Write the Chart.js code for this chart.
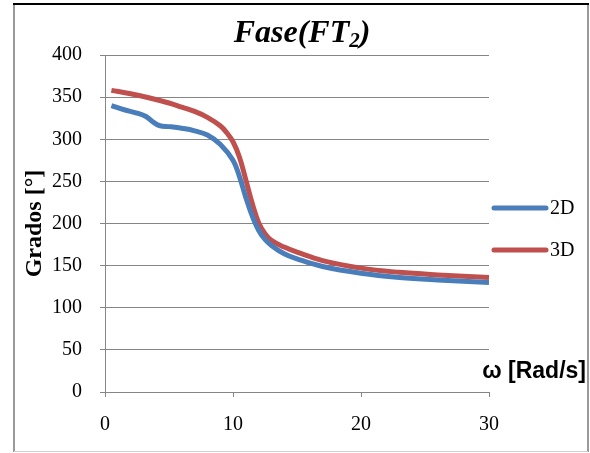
<!DOCTYPE html>
<html>
<head>
<meta charset="utf-8">
<script src="https://cdn.jsdelivr.net/npm/chart.js@4.4.1/dist/chart.umd.min.js"></script>
<style>
    html, body { margin: 0; padding: 0; background: #fff; }
    #wrap { width: 590px; height: 453px; position: relative; }
</style>
</head>
<body>
<div id="wrap"><canvas id="fase-chart"></canvas></div>
<script>
// ── Data ───────────────────────────────────────
const omega2D = [0.5, 1.5, 2.5, 3.2, 3.8, 4.3, 5, 6, 7, 8, 9, 10, 10.5, 11, 11.5, 12, 12.5, 13, 14, 15, 17, 20, 23, 26, 30];
const fase2D  = [340, 335, 331, 327, 320, 316, 315, 313, 310, 305, 294, 275, 256, 231, 209, 192, 181, 174, 164, 158, 149, 141, 136, 133, 130];

const omega3D = [0.5, 2, 3.5, 5, 6, 7, 8, 9, 9.5, 10, 10.5, 11, 11.5, 12, 12.5, 13, 14, 15, 17, 20, 23, 26, 30];
const fase3D  = [358, 354, 349, 343, 338, 333, 326, 316, 308, 297, 279, 252, 224, 201, 188, 180, 172, 166, 156, 147, 142, 139, 136];

const seriesLabels = ['2D', '3D'];
const xTicks = [0, 10, 20, 30];
const yTicks = [0, 50, 100, 150, 200, 250, 300, 350, 400];

const SERIF = "'Liberation Serif', 'Times New Roman', serif";
const SANS = "'Liberation Sans', Arial, sans-serif";
const AXIS_GREY = '#868686';

function toPoints(xs, ys) {
    return xs.map((x, i) => ({ x: x, y: ys[i] }));
}

// Frame, title, legend and x-axis caption
const decorations = {
    id: 'decorations',
    beforeDraw(chart) {
        const c = chart.ctx;
        c.save();
        c.fillStyle = '#fff';
        c.fillRect(0, 0, chart.width, chart.height);
        c.strokeStyle = '#9a9a9a';
        c.lineWidth = 2;
        c.beginPath();
        c.moveTo(14, 5); c.lineTo(14, 452);
        c.moveTo(588, 5); c.lineTo(588, 452);
        c.stroke();
        c.strokeStyle = '#d0d0d0';
        c.lineWidth = 1;
        c.beginPath();
        c.moveTo(14, 451.5); c.lineTo(588, 451.5);
        c.stroke();
        c.strokeStyle = '#000';
        c.lineWidth = 2;
        c.beginPath();
        c.moveTo(13, 4); c.lineTo(589, 4);
        c.stroke();
        c.restore();
    },
    afterDraw(chart) {
        const c = chart.ctx;
        c.save();

        // title with subscript
        const big = 'bold italic 32px ' + SERIF;
        const small = 'bold italic 21px ' + SERIF;
        c.font = big;
        const w1 = c.measureText('Fase(FT').width;
        const w3 = c.measureText(')').width;
        c.font = small;
        const w2 = c.measureText('2').width;
        let x = 302 - (w1 + w2 + w3) / 2;
        const base = 42;
        c.fillStyle = '#000';
        c.textBaseline = 'alphabetic';
        c.textAlign = 'left';
        c.font = big;
        c.fillText('Fase(FT', x, base);
        x += w1;
        c.font = small;
        c.fillText('2', x, base + 5);
        x += w2;
        c.font = big;
        c.fillText(')', x, base);

        // legend
        c.lineCap = 'round';
        c.lineWidth = 5;
        c.font = '20px ' + SERIF;
        c.textBaseline = 'middle';
        const rows = [208, 250];
        chart.data.datasets.forEach((ds, i) => {
            c.strokeStyle = ds.borderColor;
            c.beginPath();
            c.moveTo(494, rows[i]);
            c.lineTo(546, rows[i]);
            c.stroke();
            c.fillStyle = '#000';
            c.fillText(ds.label, 550, rows[i] + 1);
        });

        // x-axis caption inside plot area
        c.font = 'bold 23px ' + SANS;
        c.textAlign = 'right';
        c.fillText('\u03c9 [Rad/s]', 586, 372);
        c.restore();
    }
};

const ctx = document.getElementById('fase-chart').getContext('2d');

new Chart(ctx, {
    type: 'line',
    data: {
        datasets: [
            {
                label: seriesLabels[0],
                data: toPoints(omega2D, fase2D),
                borderColor: '#4A7EBB',
                borderWidth: 5,
                pointRadius: 0,
                tension: 0.4,
                fill: false
            },
            {
                label: seriesLabels[1],
                data: toPoints(omega3D, fase3D),
                borderColor: '#C0504D',
                borderWidth: 5,
                pointRadius: 0,
                tension: 0.4,
                fill: false
            }
        ]
    },
    options: {
        responsive: true,
        maintainAspectRatio: false,
        animation: false,
        layout: { padding: { left: 14, top: 55, right: 101, bottom: 6 } },
        plugins: {
            legend: { display: false },
            title: { display: false },
            tooltip: { enabled: false }
        },
        scales: {
            x: {
                type: 'linear',
                min: xTicks[0],
                max: xTicks[xTicks.length - 1],
                afterBuildTicks: s => { s.ticks = xTicks.map(v => ({ value: v })); },
                afterFit: s => { s.height = 55; },
                grid: {
                    drawOnChartArea: false,
                    drawTicks: true,
                    tickLength: 5,
                    color: AXIS_GREY
                },
                border: { color: AXIS_GREY, width: 1 },
                ticks: {
                    color: '#000',
                    padding: 16,
                    maxRotation: 0,
                    font: { family: SERIF, size: 20 }
                }
            },
            y: {
                min: yTicks[0],
                max: yTicks[yTicks.length - 1],
                afterBuildTicks: s => { s.ticks = yTicks.map(v => ({ value: v })); },
                afterFit: s => { s.width = 91; },
                grid: {
                    color: AXIS_GREY,
                    tickLength: 5,
                    lineWidth: 1
                },
                border: { color: AXIS_GREY, width: 1 },
                ticks: {
                    color: '#000',
                    padding: 18,
                    font: { family: SERIF, size: 20 }
                },
                title: {
                    display: true,
                    text: 'Grados [°]',
                    color: '#000',
                    padding: { top: 6, bottom: 0 },
                    font: { family: SERIF, size: 24, weight: 'bold' }
                }
            }
        }
    },
    plugins: [decorations]
});
</script>
</body>
</html>
